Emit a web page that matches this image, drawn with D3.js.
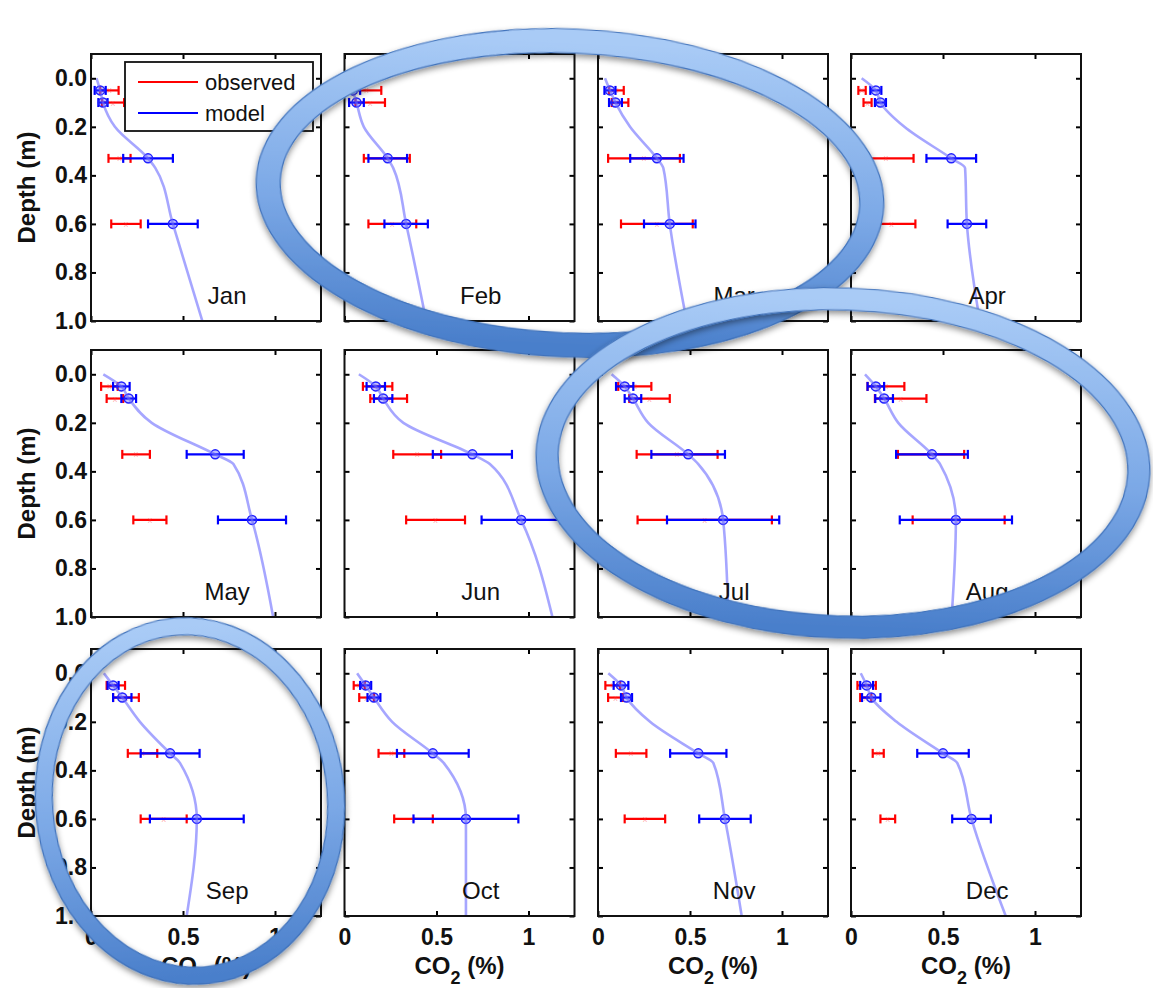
<html>
<head>
<script src='https://d3js.org/d3.v7.min.js'></script>
<style>
body {margin: 0; background: white; font-family: 'Liberation Sans', Arial, sans-serif;}
svg {display: block;}
</style>
</head>
<body>
<svg width=1153 height=988></svg>
<script>

// months, shown left to right, top to bottom
var months = ["Jan","Feb","Mar","Apr","May","Jun","Jul","Aug","Sep","Oct","Nov","Dec"];

// depths (m) of the measurement points
var depths = [0.05, 0.1, 0.33, 0.6];

// depths (m) of the model profile line
var profileDepths = [0, 0.05, 0.1, 0.2, 0.33, 0.37, 0.6, 1.0];

// observed CO2 (%) mean and half error bar, per month
var obsMean = [
  [0.10, 0.12, 0.155, 0.19], [0.12, 0.14, 0.23, 0.26], [0.10, 0.12, 0.25, 0.32], [0.06, 0.09, 0.19, 0.22],
  [0.10, 0.13, 0.245, 0.32], [0.18, 0.24, 0.395, 0.495], [0.20, 0.28, 0.43, 0.58], [0.19, 0.27, 0.435, 0.585],
  [0.135, 0.19, 0.28, 0.395], [0.08, 0.12, 0.255, 0.375], [0.08, 0.095, 0.18, 0.255], [0.085, 0.08, 0.148, 0.20]
];
var obsErr = [
  [0.05, 0.06, 0.06, 0.08], [0.08, 0.08, 0.125, 0.13], [0.04, 0.045, 0.195, 0.195], [0.02, 0.022, 0.15, 0.13],
  [0.045, 0.045, 0.075, 0.09], [0.08, 0.10, 0.13, 0.16], [0.09, 0.11, 0.22, 0.365], [0.10, 0.14, 0.18, 0.25],
  [0.05, 0.07, 0.08, 0.125], [0.03, 0.04, 0.07, 0.105], [0.04, 0.04, 0.083, 0.11], [0.05, 0.03, 0.03, 0.04]
];

// model CO2 (%) mean and half error bar, per month
var modMean = [
  [0.05, 0.065, 0.31, 0.445], [0.045, 0.065, 0.235, 0.335], [0.065, 0.095, 0.32, 0.39], [0.135, 0.16, 0.545, 0.63],
  [0.165, 0.205, 0.675, 0.875], [0.17, 0.21, 0.695, 0.96], [0.145, 0.19, 0.49, 0.68], [0.135, 0.18, 0.44, 0.57],
  [0.12, 0.17, 0.43, 0.575], [0.115, 0.16, 0.48, 0.66], [0.125, 0.155, 0.545, 0.69], [0.085, 0.11, 0.50, 0.655]
];
var modErr = [
  [0.03, 0.025, 0.135, 0.135], [0.04, 0.04, 0.105, 0.118], [0.03, 0.035, 0.145, 0.14], [0.03, 0.03, 0.135, 0.105],
  [0.045, 0.04, 0.155, 0.185], [0.05, 0.05, 0.215, 0.215], [0.047, 0.045, 0.20, 0.305], [0.045, 0.048, 0.195, 0.305],
  [0.03, 0.05, 0.16, 0.255], [0.03, 0.035, 0.195, 0.285], [0.04, 0.03, 0.153, 0.14], [0.035, 0.05, 0.14, 0.105]
];

// model profile CO2 (%) at profileDepths, per month
var profile = [
  [0.03, 0.05, 0.065, 0.13, 0.31, 0.35, 0.445, 0.605],
  [0.033, 0.045, 0.065, 0.105, 0.235, 0.265, 0.335, 0.444],
  [0.038, 0.065, 0.095, 0.174, 0.32, 0.355, 0.39, 0.482],
  [0.058, 0.135, 0.16, 0.29, 0.545, 0.62, 0.63, 0.70],
  [0.067, 0.165, 0.205, 0.33, 0.675, 0.774, 0.875, 0.99],
  [0.078, 0.17, 0.21, 0.32, 0.695, 0.79, 0.96, 1.13],
  [0.074, 0.145, 0.19, 0.273, 0.49, 0.545, 0.68, 0.708],
  [0.076, 0.135, 0.18, 0.257, 0.44, 0.484, 0.57, 0.547],
  [0.07, 0.12, 0.17, 0.266, 0.43, 0.484, 0.575, 0.52],
  [0.069, 0.115, 0.16, 0.259, 0.48, 0.54, 0.66, 0.66],
  [0.056, 0.125, 0.155, 0.283, 0.545, 0.627, 0.69, 0.781],
  [0.053, 0.085, 0.11, 0.248, 0.50, 0.578, 0.655, 0.841]
];

var xTicks = [0, 0.5, 1];
var xTickLabels = ["0", "0.5", "1"];
var yTicks = [0, 0.2, 0.4, 0.6, 0.8, 1.0];
var yTickLabels = ["0.0", "0.2", "0.4", "0.6", "0.8", "1.0"];
var legendLabels = ["observed", "model"];

// layout
var colX = [91, 344.5, 598, 851];
var rowY = [54, 350, 649];
var pw = 230, ph = 267;
var font = "'Liberation Sans', Arial, sans-serif";

var x = d3.scaleLinear().domain([0, 1.25]).range([0, pw]);
var y = d3.scaleLinear().domain([-0.1, 1.0]).range([0, ph]);

var svg = d3.select('svg');

var line = d3.line()
  .x(function(d) { return x(d[0]); })
  .y(function(d) { return y(d[1]); })
  .curve(d3.curveMonotoneY);

function errorBars(g, mean, err, color) {
  var bars = g.selectAll(null).data(depths).enter().append('g');
  bars.append('line')
    .attr('x1', function(d, j) { return x(mean[j] - err[j]); })
    .attr('x2', function(d, j) { return x(mean[j] + err[j]); })
    .attr('y1', function(d) { return y(d); })
    .attr('y2', function(d) { return y(d); })
    .attr('stroke', color).attr('stroke-width', 2.2);
  [-1, 1].forEach(function(s) {
    bars.append('line')
      .attr('x1', function(d, j) { return x(mean[j] + s * err[j]); })
      .attr('x2', function(d, j) { return x(mean[j] + s * err[j]); })
      .attr('y1', function(d) { return y(d) - 4.5; })
      .attr('y2', function(d) { return y(d) + 4.5; })
      .attr('stroke', color).attr('stroke-width', 2.2);
  });
}

months.forEach(function(m, i) {
  var col = i % 4, row = Math.floor(i / 4);
  var g = svg.append('g').attr('transform', 'translate(' + colX[col] + ',' + rowY[row] + ')');

  g.append('rect').attr('width', pw).attr('height', ph).attr('fill', 'white');

  // observed
  errorBars(g, obsMean[i], obsErr[i], '#ff0000');
  g.selectAll(null).data(depths).enter().append('text')
    .attr('x', function(d, j) { return x(obsMean[i][j]); })
    .attr('y', function(d) { return y(d) + 3; })
    .attr('text-anchor', 'middle')
    .attr('font-family', font).attr('font-size', 9)
    .attr('fill', 'rgba(255,60,60,0.45)')
    .text('x');

  // model
  errorBars(g, modMean[i], modErr[i], '#0000ff');
  g.selectAll(null).data(depths).enter().append('circle')
    .attr('cx', function(d, j) { return x(modMean[i][j]); })
    .attr('cy', function(d) { return y(d); })
    .attr('r', 4.5)
    .attr('fill', 'rgba(70,70,255,0.35)')
    .attr('stroke', '#2020ff').attr('stroke-width', 1.5);

  // model profile
  g.append('path')
    .datum(profile[i].map(function(v, k) { return [v, profileDepths[k]]; }))
    .attr('d', line)
    .attr('fill', 'none')
    .attr('stroke', '#6b6bff')
    .attr('stroke-opacity', 0.6)
    .attr('stroke-width', 2.6);

  // axes with inward ticks
  g.append('g').attr('transform', 'translate(0,' + ph + ')')
    .call(d3.axisBottom(x).tickValues(xTicks).tickSize(-5).tickPadding(13)
      .tickFormat(function(d, k) { return row == 2 ? xTickLabels[k] : ''; }));
  g.append('g')
    .call(d3.axisTop(x).tickValues(xTicks).tickSize(-5).tickFormat(''));
  g.append('g')
    .call(d3.axisLeft(y).tickValues(yTicks).tickSize(-5).tickPadding(4)
      .tickFormat(function(d, k) { return col == 0 ? yTickLabels[k] : ''; }));
  g.append('g').attr('transform', 'translate(' + pw + ',0)')
    .call(d3.axisRight(y).tickValues(yTicks).tickSize(-5).tickFormat(''));
  g.selectAll('.domain').remove();
  g.selectAll('.tick line').attr('stroke', '#000').attr('stroke-width', 2);
  g.selectAll('.tick text')
    .attr('font-family', font).attr('font-size', 23).attr('font-weight', 'bold')
    .attr('fill', '#111');

  g.append('rect').attr('width', pw).attr('height', ph)
    .attr('fill', 'none').attr('stroke', '#111').attr('stroke-width', 2);

  g.append('text')
    .attr('x', x(0.74)).attr('y', y(0.93))
    .attr('text-anchor', 'middle')
    .attr('font-family', font).attr('font-size', 24)
    .attr('fill', '#111')
    .text(m);

  if (col == 0) {
    g.append('text')
      .attr('transform', 'translate(' + (35 - colX[0]) + ',' + (ph / 2) + ') rotate(-90)')
      .attr('text-anchor', 'middle')
      .attr('font-family', font).attr('font-size', 24).attr('font-weight', 'bold')
      .attr('fill', '#111')
      .text('Depth (m)');
  }
  if (row == 2) {
    var t = g.append('text')
      .attr('x', pw / 2).attr('y', ph + 58)
      .attr('text-anchor', 'middle')
      .attr('font-family', font).attr('font-size', 24).attr('font-weight', 'bold')
      .attr('fill', '#111');
    t.append('tspan').text('CO');
    t.append('tspan').attr('dy', 10).attr('font-size', 18).text('2');
    t.append('tspan').attr('dy', -10).text(' (%)');
  }

  if (i == 0) {
    var lg = g.append('g').attr('transform', 'translate(34,8)');
    lg.append('rect').attr('width', 188).attr('height', 69)
      .attr('fill', 'white').attr('stroke', '#111').attr('stroke-width', 1.8);
    legendLabels.forEach(function(lab, k) {
      var yy = 20 + k * 31;
      lg.append('line').attr('x1', 13).attr('x2', 73).attr('y1', yy).attr('y2', yy)
        .attr('stroke', k == 0 ? '#ff0000' : '#0000ff').attr('stroke-width', 2);
      lg.append('text').attr('x', 80).attr('y', yy + 8)
        .attr('font-family', font).attr('font-size', 22)
        .attr('fill', '#111').text(lab);
    });
  }
});

// highlight rings drawn over the chart
var defs = svg.append('defs');
var grad = defs.append('linearGradient').attr('id', 'ring')
  .attr('x1', 0).attr('y1', 0).attr('x2', 0).attr('y2', 1);
grad.append('stop').attr('offset', '0%').attr('stop-color', '#a9cbf6');
grad.append('stop').attr('offset', '55%').attr('stop-color', '#7ba8e6');
grad.append('stop').attr('offset', '100%').attr('stop-color', '#4a7fcb');
var sh = defs.append('filter').attr('id', 'shadow')
  .attr('x', '-10%').attr('y', '-10%').attr('width', '120%').attr('height', '125%');
sh.append('feDropShadow').attr('dx', 0).attr('dy', 3).attr('stdDeviation', 3)
  .attr('flood-color', '#000').attr('flood-opacity', 0.45);

var rings = [
  {cx: 570, cy: 193, rx: 302, ry: 152, rot: 2.5, w: 24},
  {cx: 843, cy: 463, rx: 296, ry: 164, rot: 2, w: 22},
  {cx: 190, cy: 801, rx: 146, ry: 175, rot: -5, w: 17}
];
rings.forEach(function(r) {
  var rg = svg.append('g')
    .attr('transform', 'translate(' + r.cx + ',' + r.cy + ') rotate(' + r.rot + ')')
    .attr('filter', 'url(#shadow)');
  rg.append('ellipse').attr('rx', r.rx).attr('ry', r.ry)
    .attr('fill', 'none').attr('stroke', 'url(#ring)').attr('stroke-width', r.w);
  [-1, 1].forEach(function(s) {
    rg.append('ellipse').attr('rx', r.rx + s * r.w / 2).attr('ry', r.ry + s * r.w / 2)
      .attr('fill', 'none').attr('stroke', '#3f72bb').attr('stroke-width', 1.2);
  });
});

</script>
</body>
</html>
